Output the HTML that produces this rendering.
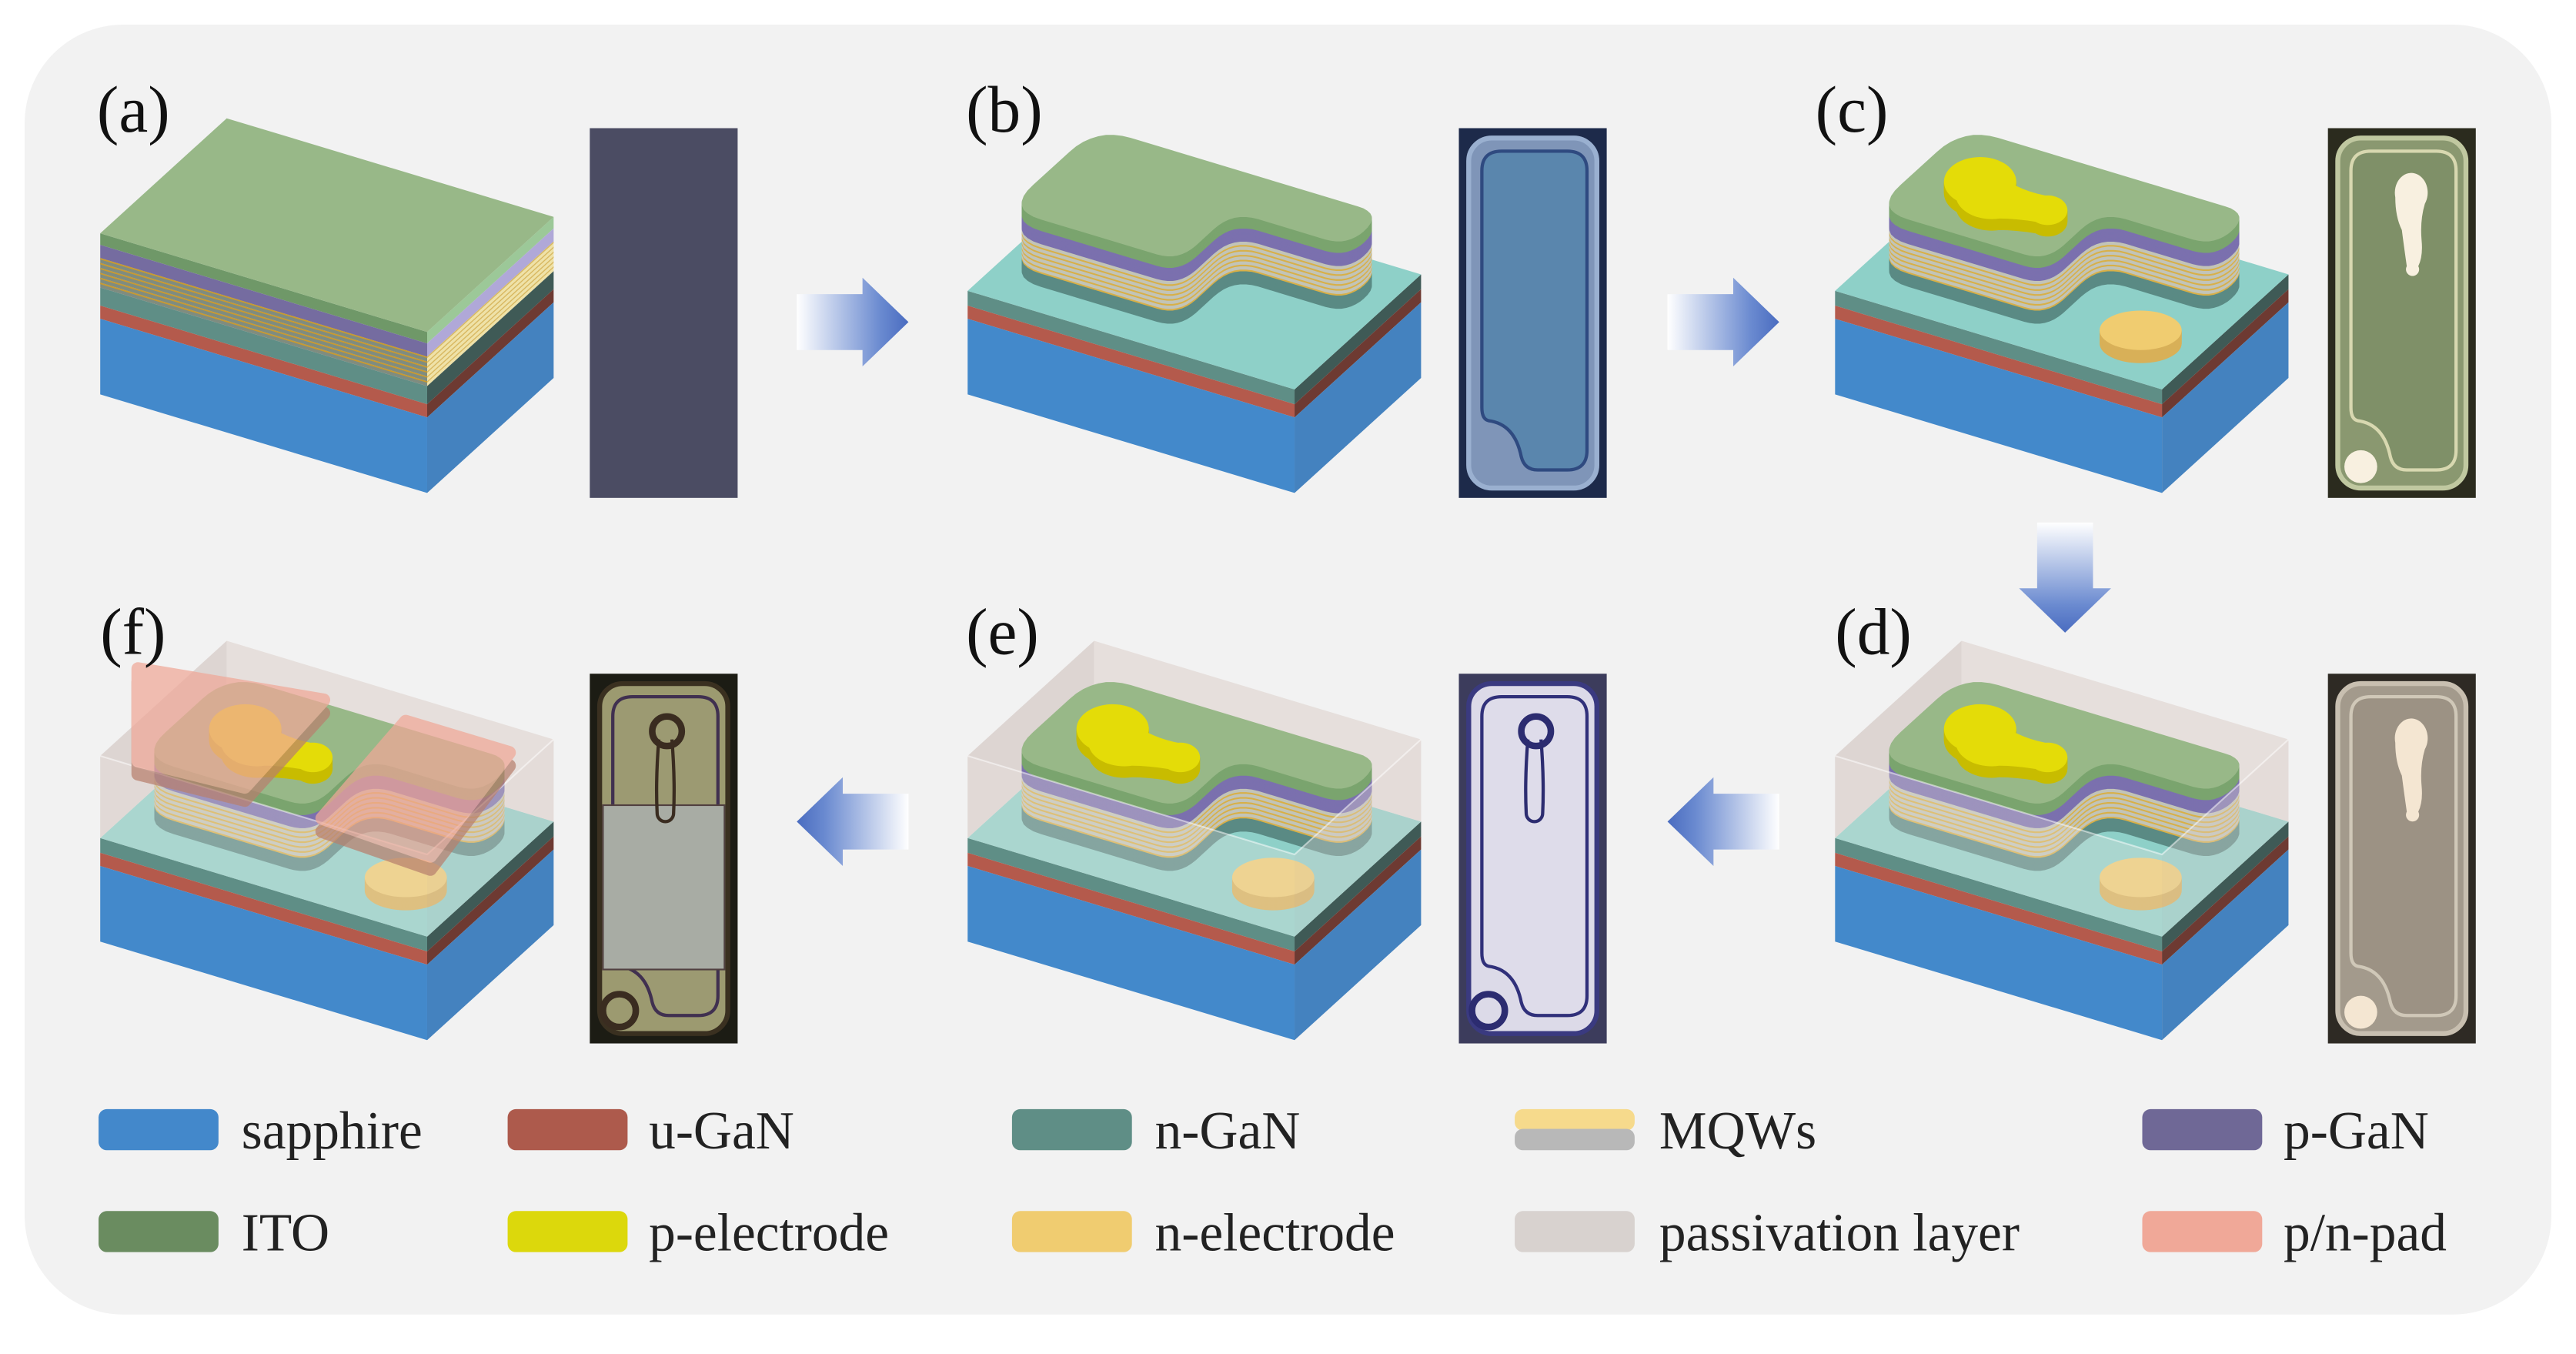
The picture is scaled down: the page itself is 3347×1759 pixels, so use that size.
<!DOCTYPE html>
<html><head><meta charset="utf-8"><style>
html,body{margin:0;padding:0;background:#fff;}
svg{display:block;}
</style></head><body>
<svg id="s" xmlns="http://www.w3.org/2000/svg" width="3347" height="1759" viewBox="0 0 1568 824" preserveAspectRatio="none">
<defs>
<linearGradient id="ah" x1="0" y1="0" x2="1" y2="0"><stop offset="0" stop-color="#ffffff"/><stop offset="0.75" stop-color="#6a8ad0"/><stop offset="1" stop-color="#4a6cc0"/></linearGradient>
<linearGradient id="ahl" x1="1" y1="0" x2="0" y2="0"><stop offset="0" stop-color="#ffffff"/><stop offset="0.75" stop-color="#6a8ad0"/><stop offset="1" stop-color="#4a6cc0"/></linearGradient>
<linearGradient id="av" x1="0" y1="0" x2="0" y2="1"><stop offset="0" stop-color="#ffffff"/><stop offset="0.75" stop-color="#6a8ad0"/><stop offset="1" stop-color="#4a6cc0"/></linearGradient>
</defs>
<rect x="15" y="15" width="1538" height="785" rx="60" ry="60" fill="#f2f2f2"/>
<g id="g"></g>
<g font-family="'Liberation Serif', serif" font-size="40" fill="#111">
<text x="59" y="80">(a)</text><text x="588" y="80">(b)</text><text x="1105" y="80">(c)</text>
<text x="61" y="398">(f)</text><text x="588" y="398">(e)</text><text x="1117" y="398">(d)</text>
</g>
<g font-family="'Liberation Serif', serif" font-size="32.5" fill="#222">
<rect x="60" y="675" width="73" height="25" rx="5" fill="#4388cb"/><text x="147" y="699">sapphire</text>
<rect x="309" y="675" width="73" height="25" rx="5" fill="#ad5a4c"/><text x="395" y="699">u-GaN</text>
<rect x="616" y="675" width="73" height="25" rx="5" fill="#5f8e86"/><text x="703" y="699">n-GaN</text>
<rect x="922" y="675" width="73" height="13" rx="5" fill="#f6da8c"/><rect x="922" y="687" width="73" height="13" rx="5" fill="#b8b8b8"/><text x="1010" y="699">MQWs</text>
<rect x="1304" y="675" width="73" height="25" rx="5" fill="#6f6896"/><text x="1390" y="699">p-GaN</text>
<rect x="60" y="737" width="73" height="25" rx="5" fill="#6a8c60"/><text x="147" y="761">ITO</text>
<rect x="309" y="737" width="73" height="25" rx="5" fill="#dcd80c"/><text x="395" y="761">p-electrode</text>
<rect x="616" y="737" width="73" height="25" rx="5" fill="#f0cc70"/><text x="703" y="761">n-electrode</text>
<rect x="922" y="737" width="73" height="25" rx="5" fill="#d8d2cf"/><text x="1010" y="761">passivation layer</text>
<rect x="1304" y="737" width="73" height="25" rx="5" fill="#f0a898"/><text x="1390" y="761">p/n-pad</text>
</g>
</svg>
<script>
var NS="http://www.w3.org/2000/svg",G=document.getElementById("g");
function el(t,a,p){var e=document.createElementNS(NS,t);for(var k in a)e.setAttribute(k,a[k]);(p||G).appendChild(e);return e;}
function pts(a){return a.map(function(p){return p[0].toFixed(1)+","+p[1].toFixed(1)}).join(" ");}
var LV=[-199,-60],RV=[77,-70];
function proj(F,s,t){return [F[0]+s/104*RV[0]+t/208*LV[0],F[1]+s/104*RV[1]+t/208*LV[1]];}
function roundPoly(P,r){var out=[];var n=P.length;for(var i=0;i<n;i++){var p0=P[(i+n-1)%n],p1=P[i],p2=P[(i+1)%n];var rr=Array.isArray(r)?r[i]:r;
var d1=[p0[0]-p1[0],p0[1]-p1[1]],d2=[p2[0]-p1[0],p2[1]-p1[1]];var l1=Math.hypot(d1[0],d1[1]),l2=Math.hypot(d2[0],d2[1]);
var a=[p1[0]+d1[0]/l1*rr,p1[1]+d1[1]/l1*rr],b=[p1[0]+d2[0]/l2*rr,p1[1]+d2[1]/l2*rr];
for(var k=0;k<=8;k++){var q=k/8;out.push([(1-q)*(1-q)*a[0]+2*q*(1-q)*p1[0]+q*q*b[0],(1-q)*(1-q)*a[1]+2*q*(1-q)*p1[1]+q*q*b[1]]);}}return out;}
function quad(A,B,C,D,fill,op){el("polygon",{points:pts([A,B,C,D]),fill:fill,"fill-opacity":op||1});}
function add(p,dy){return [p[0],p[1]+dy];}
function box(F,layers){var L=[F[0]+LV[0],F[1]+LV[1]],R=[F[0]+RV[0],F[1]+RV[1]];var off=0;
layers.forEach(function(l){var a=off,b=off+l[0];
 if(l[3]){
  for(var y=a;y<b;y+=3){quad(add(L,y),add(F,y),add(F,Math.min(y+3,b)),add(L,Math.min(y+3,b)),l[1]);quad(add(F,y),add(R,y),add(R,Math.min(y+3,b)),add(F,Math.min(y+3,b)),l[2]);
   quad(add(L,y),add(F,y),add(F,y+0.9),add(L,y+0.9),"#c89a30");quad(add(F,y),add(R,y),add(R,y+0.9),add(F,y+0.9),"#d8b860");}
 } else {quad(add(L,a),add(F,a),add(F,b),add(L,b),l[1]);quad(add(F,a),add(R,a),add(R,b),add(F,b),l[2]);}
 off=b;});}
function topFace(F,fill,op){var L=[F[0]+LV[0],F[1]+LV[1]],R=[F[0]+RV[0],F[1]+RV[1]],B=[F[0]+LV[0]+RV[0],F[1]+LV[1]+RV[1]];el("polygon",{points:pts([F,R,B,L]),fill:fill,"fill-opacity":op||1});}
var mesaFP=[[17.7,197],[91.5,197],[91.5,14.6],[62.4,14.6],[62.4,87.4],[17.7,87.4]];
function mesa(Fb,H){
 var poly=roundPoly(mesaFP,[22,22,16,14,16,14]).map(function(q){return proj(Fb,q[0],q[1]);});
 var segs=[[8,"#5a8a84"],[18,"mqw"],[8,"#7b70ae"],[7,"#7aa46e"]];var h=0;
 segs.forEach(function(sg){for(var k=0;k<sg[0];k+=0.5){var z=h+k;var c=sg[1];if(c=="mqw"){c=(Math.floor(k)%3==0)?"#d8b048":"#c2c4b8";}
  el("polygon",{points:pts(poly.map(function(p){return [p[0],p[1]-z];})),fill:c});}h+=sg[0];});
 el("polygon",{points:pts(poly.map(function(p){return [p[0],p[1]-H];})),fill:"#98b888"});
}
function disk(cx,cy,rx,ry,th,side,top){for(var k=0;k<th;k+=0.5)el("ellipse",{cx:cx,cy:cy-k,rx:rx,ry:ry,fill:side});el("ellipse",{cx:cx,cy:cy-th,rx:rx,ry:ry,fill:top});}
function pel(cx,cy,op){
 var d="M"+(cx-22)+","+cy+" a22,15 0 1,1 36,-9 q8,4 18,6 a12,9 0 1,1 -6,16 q-12,-2 -22,-2 a22,15 0 0,1 -26,-11z";
 for(var k=0;k<7;k+=0.5){el("path",{d:d,transform:"translate(0,"+(-k)+")",fill:"#c8bc00","fill-opacity":op||1});}
 el("path",{d:d,transform:"translate(0,-7)",fill:"#e4dc08","fill-opacity":op||1});}
function pass(Fb,Hp,part){var L=[Fb[0]+LV[0],Fb[1]+LV[1]],R=[Fb[0]+RV[0],Fb[1]+RV[1]],B=[Fb[0]+LV[0]+RV[0],Fb[1]+LV[1]+RV[1]];
 if(part=="back"){quad(add(L,-Hp),add(B,-Hp),B,L,"#d9d0cc",0.85);quad(add(B,-Hp),add(R,-Hp),R,B,"#e4dcd8",0.85);}
 else{quad(add(L,-Hp),add(Fb,-Hp),Fb,L,"#ece6e2",0.3);quad(add(Fb,-Hp),add(R,-Hp),R,Fb,"#e0d8d4",0.35);
  el("polyline",{points:pts([add(L,-Hp),add(Fb,-Hp),add(R,-Hp)]),fill:"none",stroke:"#fff","stroke-opacity":0.5,"stroke-width":1});}}
var baseLayers=[[9,"#5f8e86","#3f5a56"],[8,"#b45a4c","#6e3a32"],[46,"#4389cb","#4482bf"]];
function panel(dx,dy,kind){
 if(kind=="a"){var F=[260+dx,202+dy];
  box(F,[[7,"#6f9868","#9cc898"],[8,"#756ca0","#b0a8d8"],[18,"#7f8c80","#efe2a8",1],[11,"#5f8e86","#3f5a56"],[8,"#b45a4c","#6e3a32"],[46,"#4389cb","#4482bf"]]);
  topFace(F,"#98b888");return;}
 var Fb=[260+dx,237+dy];
 box(Fb,baseLayers);topFace(Fb,"#8ed0c8");
 var hasP=(kind=="d"||kind=="e"||kind=="f");
 if(hasP)pass(Fb,50,"back");
 mesa(Fb,41);
 if(kind!="b"){disk(Fb[0]-13,Fb[1]-28,25,12,8,"#d8b058","#f0cc70");
  pel(Fb[0]-103,Fb[1]-108,1);}
 if(hasP){pass(Fb,50,"front");}
 if(kind=="f"){
  var pads=[[[84,407],[197,426],[149,479],[84,463]],[[247,439],[310,458],[262,521],[196,498]]];
  pads.forEach(function(p){var q=p.map(function(a){return [a[0]+dx,a[1]+dy-333];});
   var g=el("g",{opacity:0.72});
   el("polygon",{points:pts(q.map(function(a){return [a[0],a[1]+8];})),fill:"#b8806e",stroke:"#b8806e","stroke-width":8,"stroke-linejoin":"round"},g);
   el("polygon",{points:pts(q),fill:"#f0a898",stroke:"#f0a898","stroke-width":8,"stroke-linejoin":"round"},g);});
 }
}
panel(0,0,"a");panel(528,0,"b");panel(1056,0,"c");
panel(1056,333,"d");panel(528,333,"e");panel(0,333,"f");
function micro(x,y,k){var w=90,h=225;
 var bg={a:"#4b4c63",b:"#1d2a4a",c:"#2b2b1e",d:"#2e2a24",e:"#3c3c5c",f:"#1c1c14"}[k];
 el("rect",{x:x,y:y,width:w,height:h,fill:bg});if(k=="a")return;
 var outer={b:["#7f95b8","#9ab0d0"],c:["#8a9870","#c0c8a0"],d:["#a39a8c","#c8bfb0"],e:["#dcdae8","#3a3a80"],f:["#9c9a70","#3a3020"]}[k];
 el("rect",{x:x+6,y:y+6,width:w-12,height:h-12,rx:14,fill:outer[0],stroke:outer[1],"stroke-width":3});
 var m="M"+(x+14)+","+(y+26)+" q0,-12 12,-12 h40 q12,0 12,12 v170 q0,12 -12,12 h-18 q-8,0 -10,-8 q-4,-20 -20,-22 q-4,-1 -4,-8 z";
 var inner={b:["#5a86ad","#2f4a80"],c:["#7f9068","#d8d8b0"],d:["#9c9284","#d0c8b8"],e:["#dedcea","#30307a"],f:["#9c9a72","#403050"]}[k];
 el("path",{d:m,fill:inner[0],stroke:inner[1],"stroke-width":2});
 if(k=="f")el("rect",{x:x+8,y:y+80,width:74,height:100,fill:"#a8aca4",stroke:"#504040","stroke-width":1});
 if(k=="c"||k=="d"){var c=k=="c"?"#f8f0e0":"#f4e6d2";
  el("path",{d:"M"+(x+41)+","+(y+42)+" a10,12 0 1,1 18,4 q-3,10 -2,22 q1,10 -2,16 a4,4 0 1,1 -7,0 q-2,-14 -3,-22 q-4,-8 -4,-20z",fill:c});
  el("circle",{cx:x+20,cy:y+206,r:10,fill:c});}
 if(k=="e"||k=="f"){var rc=k=="e"?"#2c2c70":"#3a2c20";
  el("path",{d:"M"+(x+42)+","+(y+40)+" q-2,25 -1,45 a5,5 0 0,0 10,0 q1,-20 -1,-45",fill:"none",stroke:rc,"stroke-width":2});
  el("circle",{cx:x+47,cy:y+35,r:9,fill:"none",stroke:rc,"stroke-width":4});
  el("circle",{cx:x+18,cy:y+205,r:10,fill:"none",stroke:rc,"stroke-width":4});}
}
micro(359,78,"a");micro(888,78,"b");micro(1417,78,"c");
micro(1417,410,"d");micro(888,410,"e");micro(359,410,"f");
function rarrow(x0,x1,cy){el("polygon",{points:pts([[x0,cy-17],[x1-28,cy-17],[x1-28,cy-27],[x1,cy],[x1-28,cy+27],[x1-28,cy+17],[x0,cy+17]]),fill:"url(#ah)"});}
function larrow(x0,x1,cy){el("polygon",{points:pts([[x1,cy-17],[x0+28,cy-17],[x0+28,cy-27],[x0,cy],[x0+28,cy+27],[x0+28,cy+17],[x1,cy+17]]),fill:"url(#ahl)"});}
rarrow(485,553,196);rarrow(1015,1083,196);
larrow(1015,1083,500);larrow(485,553,500);
el("polygon",{points:pts([[1240,318],[1274,318],[1274,358],[1285,358],[1257,385],[1229,358],[1240,358]]),fill:"url(#av)"});
</script>
</body></html>
